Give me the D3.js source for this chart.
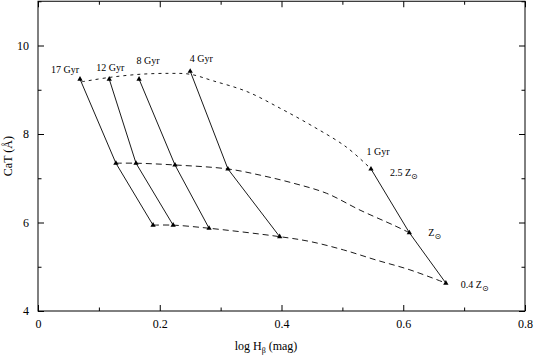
<!DOCTYPE html>
<html>
<head>
<meta charset="utf-8">
<script src="https://cdn.jsdelivr.net/npm/d3@7"></script>
<style>
  body { margin: 0; background: #fff; }
  svg { display: block; }
  text { font-family: "Liberation Serif", "DejaVu Serif", serif; fill: #000; }
</style>
</head>
<body>
<div class="chart"></div>
<script>
// ages of the model tracks (top label of each solid line)
const ages = ['17 Gyr', '12 Gyr', '8 Gyr', '4 Gyr', '1 Gyr'];
const metalLabels = ['2.5 Z', 'Z', '0.4 Z'];

// model points, one array per metallicity, ordered like ages
const hbHigh  = [0.069, 0.117, 0.166, 0.250, 0.547];
const catHigh = [9.24, 9.24, 9.24, 9.42, 7.21];
const hbSolar  = [0.128, 0.161, 0.225, 0.312, 0.610];
const catSolar = [7.34, 7.34, 7.30, 7.21, 5.77];
const hbLow  = [0.189, 0.222, 0.281, 0.397, 0.670];
const catLow = [5.94, 5.94, 5.87, 5.68, 4.63];

// dashed fits
const fitHighX = [0.072, 0.118, 0.168, 0.217, 0.250, 0.288, 0.343, 0.398, 0.452, 0.507, 0.547];
const fitHighY = [9.18, 9.28, 9.35, 9.37, 9.35, 9.20, 8.96, 8.58, 8.17, 7.70, 7.21];
const fitSolarX = [0.128, 0.161, 0.225, 0.312, 0.365, 0.419, 0.474, 0.529, 0.584, 0.610];
const fitSolarY = [7.34, 7.34, 7.30, 7.21, 7.07, 6.89, 6.66, 6.28, 5.94, 5.77];
const fitLowX = [0.189, 0.222, 0.281, 0.397, 0.447, 0.502, 0.556, 0.611, 0.670];
const fitLowY = [5.94, 5.94, 5.87, 5.68, 5.57, 5.38, 5.15, 4.93, 4.63];

const xTicks = [0, 0.2, 0.4, 0.6, 0.8];
const xMinor = [0.1, 0.3, 0.5, 0.7];
const yTicks = [4, 6, 8, 10];
const yMinor = [5, 7, 9, 11];

let w = 535, h = 359,
    mLeft = 38, mRight = 525, mTop = 1.25, mBottom = 311;

const svg = d3.select('.chart')
              .append('svg')
              .attr('width', w)
              .attr('height', h);

const x = d3.scaleLinear().domain([0, 0.8]).range([mLeft, mRight]);
const y = d3.scaleLinear().domain([4, 11]).range([mBottom, mTop]);

// frame
svg.append('rect')
   .attr('x', mLeft).attr('y', mTop)
   .attr('width', mRight - mLeft).attr('height', mBottom - mTop)
   .attr('fill', 'none').attr('stroke', '#000').attr('stroke-width', 1);

const axisStyle = (g) => {
    g.select('.domain').remove();
    g.selectAll('line').attr('stroke', '#000');
    g.selectAll('text').attr('font-size', 12).attr('font-family', '"Liberation Serif", serif');
};

// major ticks, inward
svg.append('g').attr('transform', `translate(0,${mBottom})`)
   .call(d3.axisBottom(x).tickValues(xTicks).tickSize(-6).tickPadding(8).tickFormat(d3.format('')))
   .call(axisStyle);
svg.append('g').attr('transform', `translate(0,${mTop})`)
   .call(d3.axisTop(x).tickValues(xTicks).tickSize(-6).tickFormat(''))
   .call(axisStyle);
svg.append('g').attr('transform', `translate(${mLeft},0)`)
   .call(d3.axisLeft(y).tickValues(yTicks).tickSize(-6).tickPadding(9).tickFormat(d3.format('d')))
   .call(axisStyle);
svg.append('g').attr('transform', `translate(${mRight},0)`)
   .call(d3.axisRight(y).tickValues(yTicks).tickSize(-6).tickFormat(''))
   .call(axisStyle);

// minor ticks
svg.append('g').attr('transform', `translate(0,${mBottom})`)
   .call(d3.axisBottom(x).tickValues(xMinor).tickSize(-3.5).tickFormat(''))
   .call(axisStyle);
svg.append('g').attr('transform', `translate(0,${mTop})`)
   .call(d3.axisTop(x).tickValues(xMinor).tickSize(-3.5).tickFormat(''))
   .call(axisStyle);
svg.append('g').attr('transform', `translate(${mLeft},0)`)
   .call(d3.axisLeft(y).tickValues(yMinor).tickSize(-3.5).tickFormat(''))
   .call(axisStyle);
svg.append('g').attr('transform', `translate(${mRight},0)`)
   .call(d3.axisRight(y).tickValues(yMinor).tickSize(-3.5).tickFormat(''))
   .call(axisStyle);

// axis titles
const xt = svg.append('text')
   .attr('x', 266).attr('y', 350)
   .attr('text-anchor', 'middle')
   .attr('font-size', 12);
xt.append('tspan').text('log H');
xt.append('tspan').attr('font-size', 8).attr('dy', 3).text('β');
xt.append('tspan').attr('dy', -3).text(' (mag)');

svg.append('text')
   .attr('transform', `translate(12,${(mTop + mBottom) / 2}) rotate(-90)`)
   .attr('text-anchor', 'middle')
   .attr('font-size', 12)
   .text('CaT (Å)');

// dashed fits
const line = d3.line().x(d => x(d[0])).y(d => y(d[1])).curve(d3.curveCatmullRom);
const fits = [
    {xs: fitHighX, ys: fitHighY, dash: '3,4'},
    {xs: fitSolarX, ys: fitSolarY, dash: '6,4'},
    {xs: fitLowX, ys: fitLowY, dash: '6,4'}
];
svg.selectAll('.fit')
   .data(fits)
   .enter()
   .append('path')
   .attr('class', 'fit')
   .attr('d', f => line(f.xs.map((v, i) => [v, f.ys[i]])))
   .attr('fill', 'none')
   .attr('stroke', '#000')
   .attr('stroke-width', 0.9)
   .attr('stroke-dasharray', f => f.dash);

// solid age tracks
const tracks = ages.map((a, i) => [[hbHigh[i], catHigh[i]], [hbSolar[i], catSolar[i]], [hbLow[i], catLow[i]]]);
const straight = d3.line().x(d => x(d[0])).y(d => y(d[1]));
svg.selectAll('.track')
   .data(tracks)
   .enter()
   .append('path')
   .attr('class', 'track')
   .attr('d', straight)
   .attr('fill', 'none')
   .attr('stroke', '#000')
   .attr('stroke-width', 0.9);

// markers
const pts = tracks.flat();
svg.selectAll('.pt')
   .data(pts)
   .enter()
   .append('path')
   .attr('class', 'pt')
   .attr('d', d3.symbol(d3.symbolTriangle, 12))
   .attr('transform', d => `translate(${x(d[0])},${y(d[1])})`)
   .attr('fill', '#000');

// age labels (hand placed offsets from the top point)
const ageOffsets = [[-15, -6], [1, -8], [9, -15], [11, -9], [7, -14]];
svg.selectAll('.age')
   .data(ages)
   .enter()
   .append('text')
   .attr('class', 'age')
   .attr('x', (d, i) => x(hbHigh[i]) + ageOffsets[i][0])
   .attr('y', (d, i) => y(catHigh[i]) + ageOffsets[i][1])
   .attr('text-anchor', 'middle')
   .attr('font-size', 10)
   .text(d => d);

// metallicity labels at the 1 Gyr end
const metalEnds = [[hbHigh[4], catHigh[4]], [hbSolar[4], catSolar[4]], [hbLow[4], catLow[4]]];
const metalOffsets = [[19, 7], [19, 3], [15, 5]];
metalLabels.forEach((lab, i) => {
    const t = svg.append('text')
       .attr('x', x(metalEnds[i][0]) + metalOffsets[i][0])
       .attr('y', y(metalEnds[i][1]) + metalOffsets[i][1])
       .attr('font-size', 10);
    t.append('tspan').text(lab);
    t.append('tspan').attr('font-size', 8).attr('dy', 3).attr('font-family', '"DejaVu Sans", sans-serif').text('⊙');
});
</script>
</body>
</html>
